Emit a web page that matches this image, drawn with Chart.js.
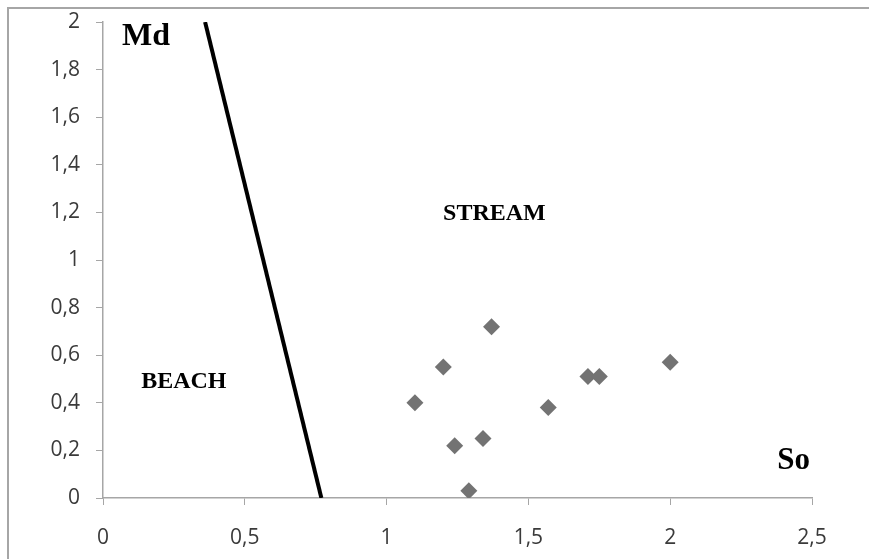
<!DOCTYPE html>
<html>
<head>
<meta charset="utf-8">
<script src="https://cdn.jsdelivr.net/npm/chart.js@4"></script>
<style>
  html, body { margin: 0; padding: 0; background: #fff; }
  #wrap { position: relative; width: 869px; height: 559px; overflow: hidden; }
  #frame { position: absolute; left: 7px; top: 7px; width: 900px; height: 600px;
           border-left: 2px solid #a6a6a6; border-top: 2px solid #a6a6a6; box-sizing: border-box; }
  canvas { position: absolute; left: 0; top: 0; }
</style>
</head>
<body>
<div id="wrap">
  <div id="frame"></div>
  <canvas id="chart" width="869" height="559"></canvas>
</div>
<script>
// So (sorting) vs Md (median) samples
const soValues = [1.10, 1.20, 1.24, 1.29, 1.34, 1.37, 1.57, 1.71, 1.75, 2.00];
const mdValues = [0.40, 0.55, 0.22, 0.03, 0.25, 0.72, 0.38, 0.51, 0.51, 0.57];

// dividing line beach / stream
const lineX = [0.36, 0.77];
const lineY = [2, 0];

const xTicks = [0, 0.5, 1, 1.5, 2, 2.5];
const yTicks = [0, 0.2, 0.4, 0.6, 0.8, 1, 1.2, 1.4, 1.6, 1.8, 2];

// text labels placed in data space
const labels = [
  { text: 'Md', x: 0.152, y: 1.94, size: 32 },
  { text: 'STREAM', x: 1.38, y: 1.195, size: 24 },
  { text: 'BEACH', x: 0.285, y: 0.49, size: 24 },
  { text: 'So', x: 2.435, y: 0.155, size: 31 }
];

const points = soValues.map((v, i) => ({ x: v, y: mdValues[i] }));
const linePts = lineX.map((v, i) => ({ x: v, y: lineY[i] }));

const fmt = v => String(v).replace('.', ',');

const textPlugin = {
  id: 'areaText',
  afterDatasetsDraw(chart) {
    const ctx = chart.ctx;
    const xs = chart.scales.x, ys = chart.scales.y;
    ctx.save();
    ctx.fillStyle = '#000';
    ctx.textAlign = 'center';
    ctx.textBaseline = 'middle';
    labels.forEach(l => {
      ctx.font = 'bold ' + l.size + 'px "Liberation Serif", "DejaVu Serif", serif';
      ctx.fillText(l.text, xs.getPixelForValue(l.x), ys.getPixelForValue(l.y));
    });
    ctx.restore();
  }
};

const tickFont = { family: '"Open Sans", "Liberation Sans", sans-serif', size: 21 };

new Chart(document.getElementById('chart'), {
  type: 'scatter',
  data: {
    datasets: [
      {
        data: points,
        pointStyle: 'rectRot',
        pointRadius: 8.5,
        pointHoverRadius: 8.5,
        backgroundColor: '#737373',
        borderColor: '#737373',
        borderWidth: 0
      },
      {
        data: linePts,
        showLine: true,
        borderColor: '#000',
        borderWidth: 4,
        pointRadius: 0,
        fill: false
      }
    ]
  },
  options: {
    responsive: false,
    animation: false,
    layout: { padding: { top: 22, right: 57, left: 0, bottom: 0 } },
    plugins: { legend: { display: false }, tooltip: { enabled: false } },
    scales: {
      x: {
        type: 'linear',
        min: 0, max: 2.5,
        afterBuildTicks: s => { s.ticks = xTicks.map(v => ({ value: v })); },
        afterFit: s => { s.height = 61; s.paddingLeft = 0; s.paddingRight = 0; },
        grid: { drawOnChartArea: false, drawTicks: true, tickLength: 7, color: '#a6a6a6' },
        border: { display: true, color: '#a6a6a6', width: 1.5 },
        ticks: { color: '#3a3a3a', font: tickFont, padding: 20, maxRotation: 0, callback: v => fmt(v) }
      },
      y: {
        type: 'linear',
        min: 0, max: 2,
        afterBuildTicks: s => { s.ticks = yTicks.map(v => ({ value: v })); },
        afterFit: s => { s.width = 103; s.paddingTop = 0; s.paddingBottom = 0; },
        grid: { drawOnChartArea: false, drawTicks: true, tickLength: 7, color: '#a6a6a6' },
        border: { display: true, color: '#a6a6a6', width: 1.5 },
        ticks: { color: '#3a3a3a', font: tickFont, padding: 16, callback: v => fmt(v) }
      }
    }
  },
  plugins: [textPlugin]
});
</script>
</body>
</html>
